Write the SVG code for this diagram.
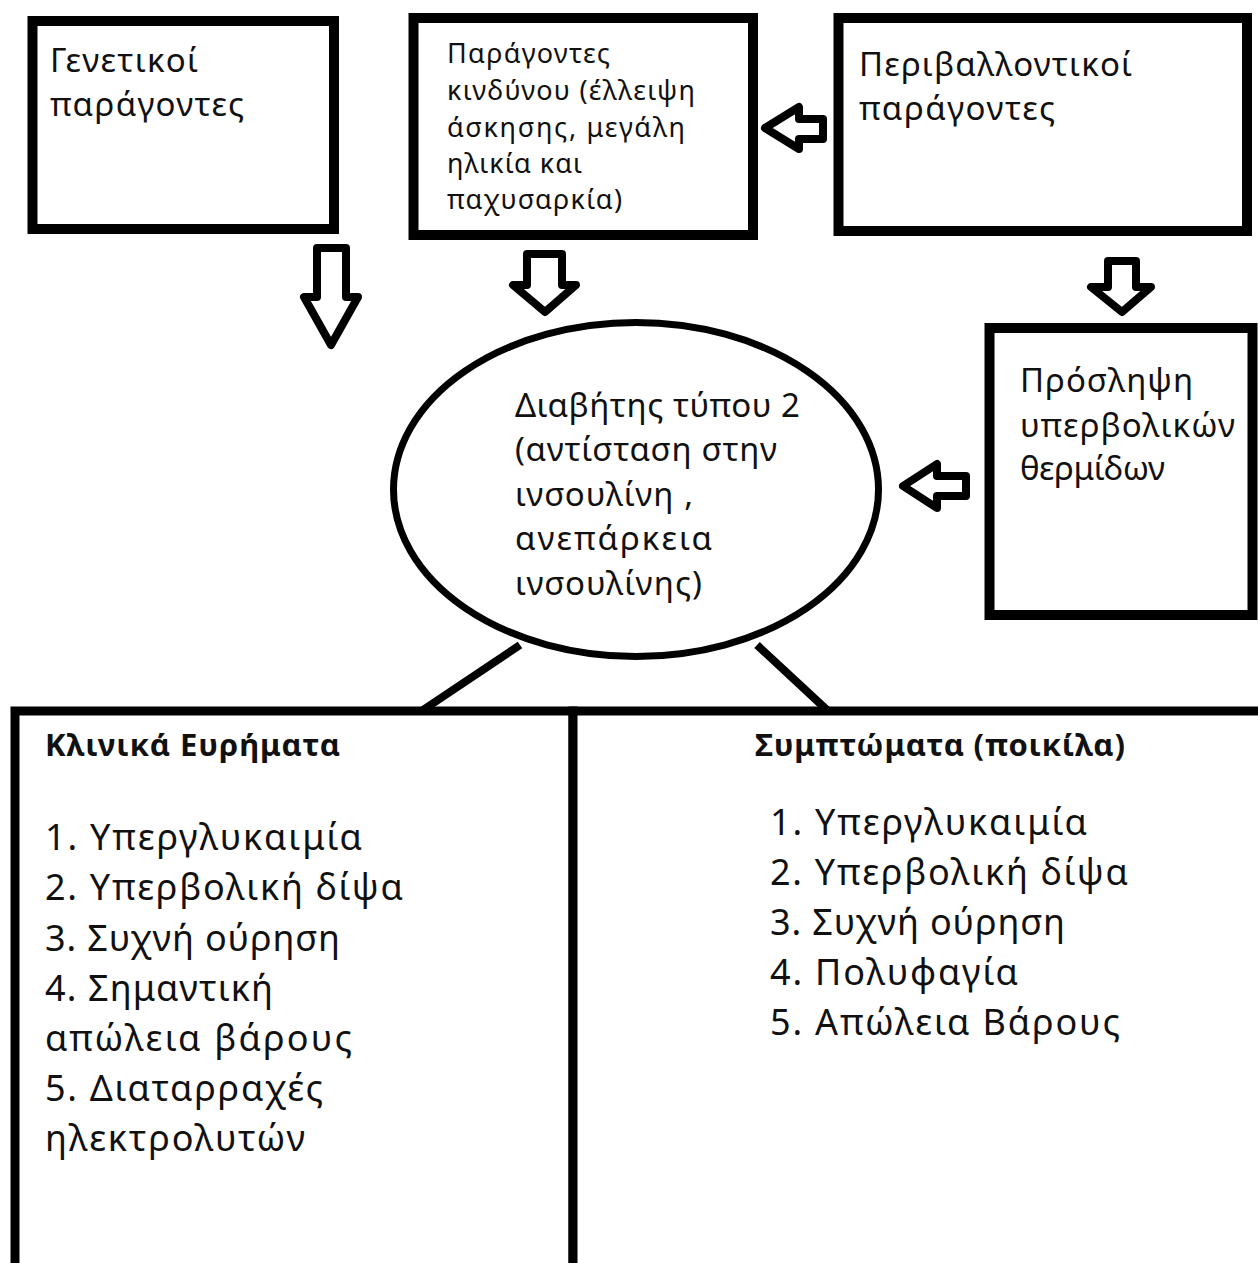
<svg xmlns="http://www.w3.org/2000/svg" width="1258" height="1263" viewBox="0 0 1258 1263">
<style>
.box{fill:#fff;stroke:#000;stroke-width:10}
.arr{fill:#fff;stroke:#000;stroke-width:8;stroke-linejoin:round}
.t{font-family:"Noto Sans","Open Sans","DejaVu Sans",sans-serif;fill:#111}
.b{font-weight:bold}
.m{font-size:33px}
.s{font-size:27px}
.l{font-size:36px}
.h{font-size:31px}
.ln{stroke:#000;stroke-width:8;fill:none}
</style>
<rect width="1258" height="1263" fill="#fff"/>
<g id="connectors">
<path class="arr" d="M317,248 H346 V297 H358 L331,345 L304,297 H317 Z"/>
<path class="arr" d="M527,254 H562 V285 H576 L545,312 L513,285 H527 Z"/>
<path class="arr" d="M1108,261 H1136 V287 H1151 L1122,312 L1091,287 H1108 Z"/>
<path class="arr" d="M823,119 V139 H799 V149 L765,128 L799,107 V119 Z"/>
<path class="arr" d="M966,476 V496 H937 V508 L903,486 L937,464 V476 Z"/>
<line class="ln" x1="520" y1="645" x2="423" y2="710"/>
<line class="ln" x1="757" y1="645" x2="827" y2="710"/>
</g>
<g id="genetic">
<rect class="box" x="32.5" y="21" width="301.5" height="208"/>
<text class="t m" x="50" y="72" textLength="148" lengthAdjust="spacing">Γενετικοί</text>
<text class="t m" x="50" y="116" textLength="194" lengthAdjust="spacing">παράγοντες</text>
</g>
<g id="risk">
<rect class="box" x="413.5" y="18" width="339.5" height="217"/>
<text class="t s" x="447" y="63" textLength="163" lengthAdjust="spacing">Παράγοντες</text>
<text class="t s" x="447" y="100" textLength="248" lengthAdjust="spacing">κινδύνου (έλλειψη</text>
<text class="t s" x="447" y="137" textLength="238" lengthAdjust="spacing">άσκησης, μεγάλη</text>
<text class="t s" x="447" y="173" textLength="135" lengthAdjust="spacing">ηλικία και</text>
<text class="t s" x="447" y="209" textLength="175" lengthAdjust="spacing">παχυσαρκία)</text>
</g>
<g id="environment">
<rect class="box" x="838.5" y="18" width="408.5" height="213"/>
<text class="t m" x="859" y="76" textLength="273" lengthAdjust="spacing">Περιβαλλοντικοί</text>
<text class="t m" x="859" y="120" textLength="196" lengthAdjust="spacing">παράγοντες</text>
</g>
<g id="intake">
<rect class="box" x="989.5" y="328" width="263" height="287"/>
<text class="t m" x="1020" y="392" textLength="173" lengthAdjust="spacing">Πρόσληψη</text>
<text class="t m" x="1020" y="437" textLength="215" lengthAdjust="spacing">υπερβολικών</text>
<text class="t m" x="1020" y="480" textLength="145" lengthAdjust="spacing">θερμίδων</text>
</g>
<g id="diabetes">
<ellipse cx="636" cy="489.5" rx="242.5" ry="167" fill="#fff" stroke="#000" stroke-width="7"/>
<text class="t m" x="515" y="417" textLength="285" lengthAdjust="spacing">Διαβήτης τύπου 2</text>
<text class="t m" x="515" y="461" textLength="262" lengthAdjust="spacing">(αντίσταση στην</text>
<text class="t m" x="515" y="506" textLength="178" lengthAdjust="spacing">ινσουλίνη ,</text>
<text class="t m" x="515" y="550" textLength="197" lengthAdjust="spacing">ανεπάρκεια</text>
<text class="t m" x="515" y="595" textLength="187" lengthAdjust="spacing">ινσουλίνης)</text>
</g>
<g id="clinical">
<rect x="15" y="711" width="558" height="600" fill="#fff" stroke="#000" stroke-width="9"/>
<text class="t b h" x="45" y="756" textLength="295" lengthAdjust="spacing">Κλινικά Ευρήματα</text>
<text class="t l" x="45" y="850" textLength="317" lengthAdjust="spacing">1. Υπεργλυκαιμία</text>
<text class="t l" x="45" y="900" textLength="358" lengthAdjust="spacing">2. Υπερβολική δίψα</text>
<text class="t l" x="45" y="951" textLength="295" lengthAdjust="spacing">3. Συχνή ούρηση</text>
<text class="t l" x="45" y="1001" textLength="228" lengthAdjust="spacing">4. Σημαντική</text>
<text class="t l" x="45" y="1051" textLength="307" lengthAdjust="spacing">απώλεια βάρους</text>
<text class="t l" x="45" y="1101" textLength="278" lengthAdjust="spacing">5. Διαταρραχές</text>
<text class="t l" x="45" y="1151" textLength="260" lengthAdjust="spacing">ηλεκτρολυτών</text>
</g>
<g id="symptoms">
<rect x="573" y="711" width="700" height="600" fill="#fff" stroke="#000" stroke-width="9"/>
<text class="t b h" x="755" y="756" textLength="370" lengthAdjust="spacing">Συμπτώματα (ποικίλα)</text>
<text class="t l" x="770" y="835" textLength="317" lengthAdjust="spacing">1. Υπεργλυκαιμία</text>
<text class="t l" x="770" y="885" textLength="358" lengthAdjust="spacing">2. Υπερβολική δίψα</text>
<text class="t l" x="770" y="935" textLength="295" lengthAdjust="spacing">3. Συχνή ούρηση</text>
<text class="t l" x="770" y="985" textLength="248" lengthAdjust="spacing">4. Πολυφαγία</text>
<text class="t l" x="770" y="1035" textLength="350" lengthAdjust="spacing">5. Απώλεια Βάρους</text>
</g>
</svg>
